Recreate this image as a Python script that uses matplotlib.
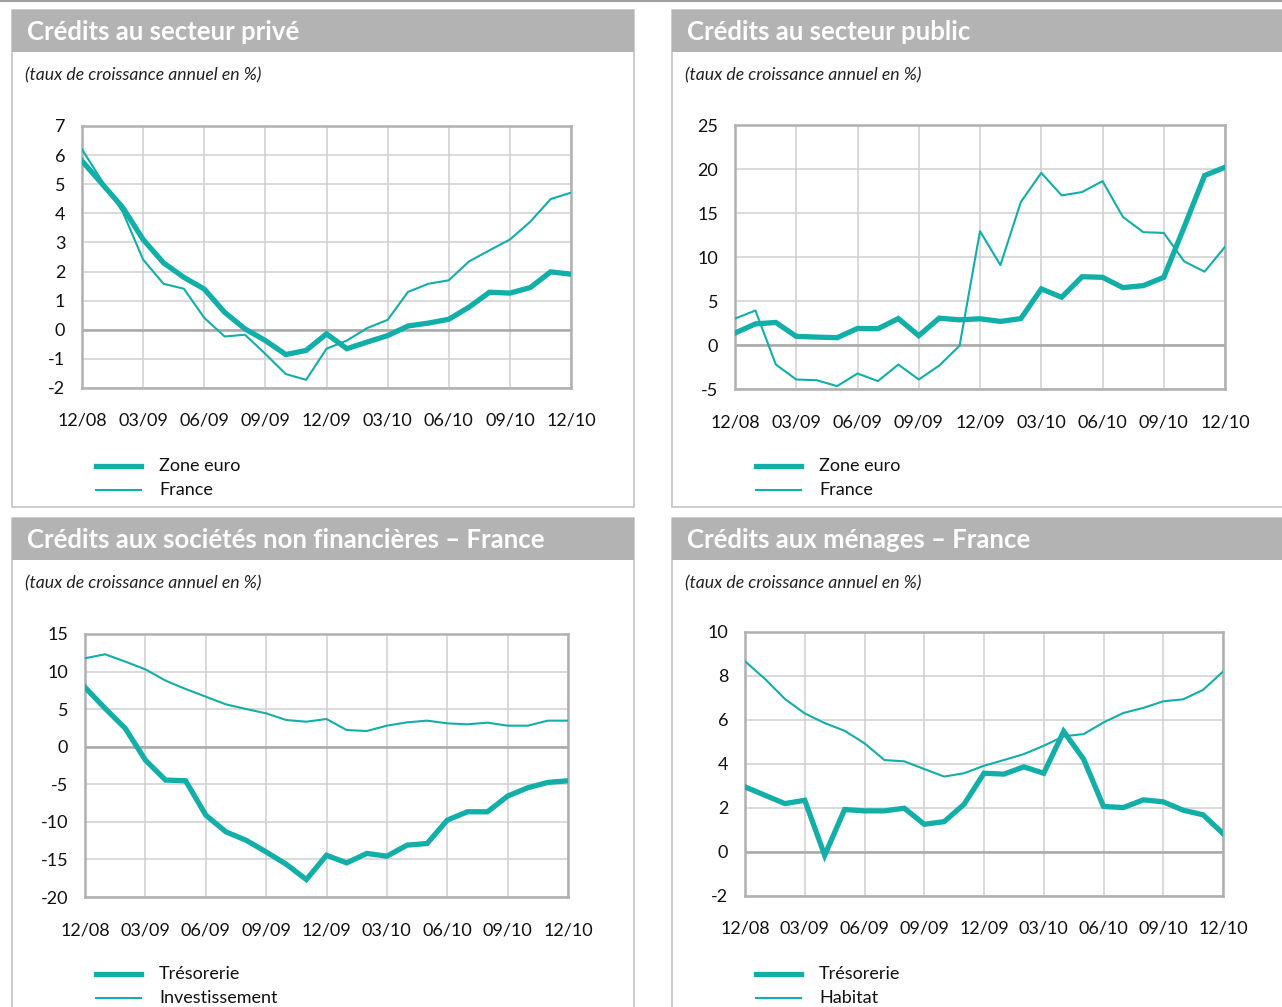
import numpy as np
import matplotlib
matplotlib.use("Agg")
import matplotlib.pyplot as plt
from matplotlib.patches import Rectangle
from matplotlib.lines import Line2D

plt.rcParams["font.family"] = ["Lato", "DejaVu Sans"]
plt.rcParams["axes.unicode_minus"] = False

# data : monthly, 12/08 -> 12/10
months = np.arange(25)
tick_pos = np.arange(0, 25, 3)
tick_labels = ["12/08", "03/09", "06/09", "09/09", "12/09", "03/10", "06/10", "09/10", "12/10"]

prive_zone_euro = [5.8, 5.0, 4.2, 3.1, 2.3, 1.8, 1.4, 0.6, 0.03, -0.37, -0.85, -0.71, -0.14,
                   -0.65, -0.42, -0.2, 0.13, 0.23, 0.36, 0.78, 1.29, 1.26, 1.45, 1.99, 1.91]
prive_france = [6.2, 5.09, 4.05, 2.41, 1.58, 1.41, 0.41, -0.23, -0.17, -0.83, -1.52, -1.72, -0.65,
                -0.37, 0.06, 0.34, 1.30, 1.58, 1.70, 2.35, 2.73, 3.1, 3.71, 4.49, 4.71]

public_zone_euro = [1.36, 2.4, 2.56, 0.98, 0.9, 0.83, 1.88, 1.85, 3.0, 1.06, 3.05, 2.86, 2.98,
                    2.68, 3.0, 6.37, 5.43, 7.76, 7.69, 6.52, 6.75, 7.69, 13.4, 19.26, 20.2]
public_france = [3.0, 3.92, -2.22, -3.92, -4.0, -4.67, -3.24, -4.1, -2.22, -3.92, -2.34, -0.08, 12.93,
                 9.08, 16.25, 19.56, 17.0, 17.38, 18.62, 14.55, 12.82, 12.74, 9.5, 8.33, 11.16]

snf_tresorerie = [7.9, 5.1, 2.44, -1.78, -4.44, -4.53, -9.1, -11.33, -12.44, -14.0, -15.64, -17.68, -14.44,
                  -15.46, -14.2, -14.57, -13.1, -12.88, -9.77, -8.66, -8.66, -6.57, -5.46, -4.75, -4.53]
snf_investissement = [11.77, 12.3, 11.33, 10.3, 8.8, 7.68, 6.66, 5.64, 5.02, 4.44, 3.55, 3.33, 3.69,
                      2.22, 2.09, 2.8, 3.24, 3.47, 3.11, 2.98, 3.2, 2.8, 2.8, 3.47, 3.47]

men_tresorerie = [2.96, 2.58, 2.2, 2.35, -0.15, 1.93, 1.87, 1.87, 1.99, 1.26, 1.38, 2.17, 3.58,
                  3.54, 3.87, 3.58, 5.48, 4.22, 2.07, 2.02, 2.37, 2.28, 1.9, 1.69, 0.84]
men_habitat = [8.67, 7.87, 6.96, 6.3, 5.86, 5.51, 4.94, 4.18, 4.12, 3.77, 3.43, 3.58, 3.92,
               4.18, 4.45, 4.83, 5.26, 5.36, 5.89, 6.32, 6.55, 6.85, 6.94, 7.37, 8.2]

TEAL = "#12aea8"
HEADER = "#b3b3b3"
BORDER = "#c4c4c4"
W, H = 1282, 1007

fig = plt.figure(figsize=(W / 100, H / 100), dpi=100)


def fx(x):
    return x / W


def fy(y):
    return 1 - y / H


def panel(x0, x1, y0, y1, title):
    fig.add_artist(Rectangle((fx(x0), fy(y1)), fx(x1 - x0), (y1 - y0) / H,
                             transform=fig.transFigure, facecolor="white",
                             edgecolor=BORDER, linewidth=1.2, zorder=-10))
    fig.add_artist(Rectangle((fx(x0), fy(y0 + 42)), fx(x1 - x0), 42 / H,
                             transform=fig.transFigure, facecolor=HEADER,
                             edgecolor="none", zorder=-9))
    fig.text(fx(x0 + 15), fy(y0 + 22), title, color="white", fontsize=18.5,
             fontweight="bold", va="center", ha="left")
    fig.text(fx(x0 + 13), fy(y0 + 65), "(taux de croissance annuel en %)",
             fontsize=12.7, style="italic", va="center", ha="left", color="#222222")


def chart(box, x0, thick, thin, ylim, ystep, labels, legend_y):
    left, right, top, bottom = box
    ax = fig.add_axes([fx(left), fy(bottom), fx(right - left), (bottom - top) / H])
    ax.plot(months, thick, color=TEAL, lw=3.8, solid_joinstyle="miter", zorder=4)
    ax.plot(months, thin, color=TEAL, lw=1.5, zorder=3)
    ax.set_xlim(0, 24)
    ax.set_ylim(*ylim)
    ax.set_xticks(tick_pos)
    ax.set_xticklabels(tick_labels)
    ax.set_yticks(np.arange(ylim[0], ylim[1] + ystep / 2, ystep))
    ax.grid(True, color="#cfcfcf", lw=1.1)
    ax.axhline(0, color="#a8a8a8", lw=1.8, zorder=2)
    for s in ax.spines.values():
        s.set_color("#b0b0b0")
        s.set_linewidth(1.8)
    ax.tick_params(length=0, labelsize=13, colors="#111111")
    ax.tick_params(axis="x", pad=18)
    ax.tick_params(axis="y", pad=12)
    lx = x0 + 84
    for k, (lab, lw) in enumerate(zip(labels, [3.8, 1.5])):
        yy = legend_y + 24 * k
        fig.add_artist(Line2D([fx(lx), fx(lx + 45)], [fy(yy), fy(yy)],
                              transform=fig.transFigure, color=TEAL, lw=lw))
        fig.text(fx(x0 + 147), fy(yy), lab, fontsize=13, va="center", ha="left",
                 color="#111111")
    return ax


# top rule
fig.add_artist(Line2D([0, 1], [fy(1), fy(1)], transform=fig.transFigure,
                      color="#a0a0a0", lw=1.5))

panel(12, 634, 10, 507, "Crédits au secteur privé")
panel(672, 1290, 10, 507, "Crédits au secteur public")
panel(12, 634, 518, 1020, "Crédits aux sociétés non financières – France")
panel(672, 1290, 518, 1020, "Crédits aux ménages – France")

chart((82, 571, 126, 388), 12, prive_zone_euro, prive_france, (-2, 7), 1,
      ["Zone euro", "France"], 466)
chart((735, 1225, 125, 389), 672, public_zone_euro, public_france, (-5, 25), 5,
      ["Zone euro", "France"], 466)
chart((85, 568, 634, 897), 12, snf_tresorerie, snf_investissement, (-20, 15), 5,
      ["Trésorerie", "Investissement"], 974)
chart((745, 1223, 632, 896), 672, men_tresorerie, men_habitat, (-2, 10), 2,
      ["Trésorerie", "Habitat"], 974)

fig.savefig("out.png", dpi=100)
